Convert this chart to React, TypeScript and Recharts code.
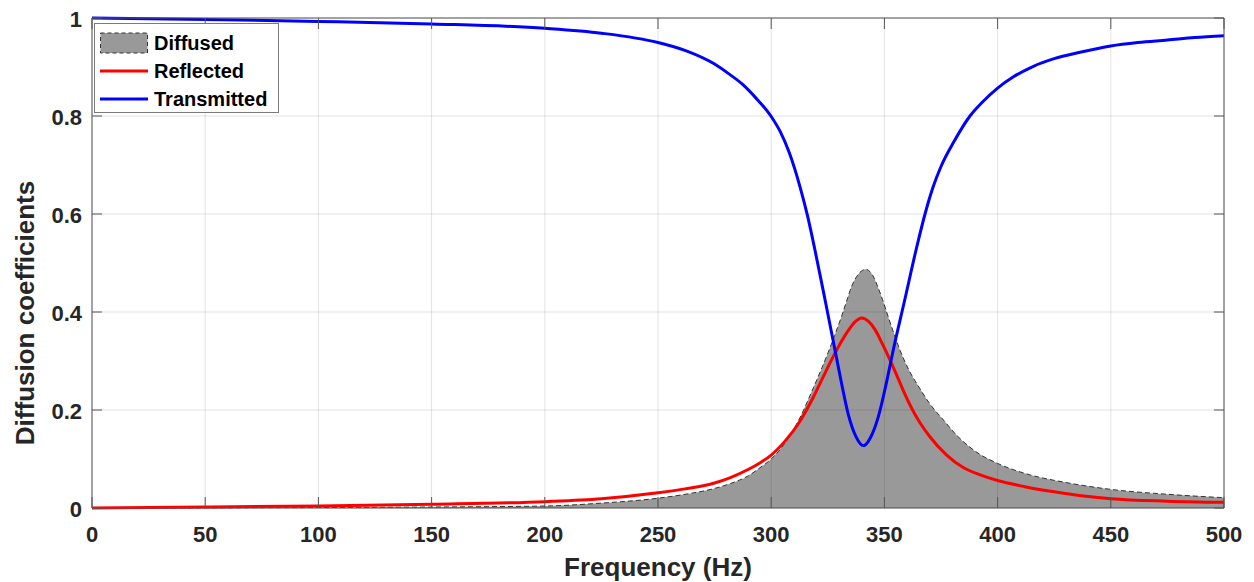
import React from "react";
import {
  ComposedChart, Area, Line, XAxis, YAxis, CartesianGrid, Legend, Label, ReferenceLine,
} from "recharts";

// values
const diffusedFreq = [0, 100, 150, 200, 225, 250, 262, 275, 282, 290, 295, 300, 306, 312, 318.6, 325.2, 328, 331, 333.3, 335.5, 337.7, 339.7, 341.7, 343.7, 345.5, 347.2, 349.2, 351.7, 354.3, 356.9, 361, 365.5, 370, 376, 382, 387, 392, 400, 414, 429, 450, 475, 500];
const diffusedVals = [0, 0.001, 0.002, 0.004, 0.01, 0.02, 0.028, 0.04, 0.05, 0.066, 0.082, 0.1, 0.132, 0.178, 0.245, 0.318, 0.352, 0.39, 0.422, 0.452, 0.472, 0.483, 0.487, 0.482, 0.469, 0.45, 0.425, 0.39, 0.355, 0.322, 0.28, 0.245, 0.213, 0.18, 0.148, 0.127, 0.11, 0.091, 0.068, 0.053, 0.038, 0.028, 0.021];

const reflectedFreq = [0, 50, 100, 150, 200, 225, 250, 262, 275, 282, 290, 295, 300, 306, 312, 318.6, 323, 327.5, 331, 334, 337, 340, 343, 346, 349, 352.5, 356, 359, 362.8, 366, 370, 377.5, 385, 392, 400, 412, 425, 437, 450, 475, 500];
const reflectedVals = [0, 0.002, 0.004, 0.0075, 0.013, 0.019, 0.031, 0.039, 0.051, 0.062, 0.079, 0.092, 0.108, 0.136, 0.172, 0.226, 0.268, 0.31, 0.34, 0.362, 0.38, 0.388, 0.381, 0.363, 0.336, 0.302, 0.265, 0.233, 0.197, 0.172, 0.146, 0.108, 0.082, 0.068, 0.056, 0.0435, 0.033, 0.025, 0.019, 0.014, 0.0116];

const transmittedFreq = [0, 50, 100, 150, 200, 225, 250, 262.5, 275, 281, 287.5, 293, 300, 304, 308, 312.7, 316, 319.3, 324, 328.2, 331, 334.1, 337.5, 340.7, 344, 347.3, 351, 353.9, 359, 364, 368, 371.5, 375, 381, 387.8, 393, 400, 407, 415.6, 425, 436.4, 450, 462, 475, 487, 500];
const transmittedVals = [1.0, 0.997, 0.993, 0.988, 0.979, 0.969, 0.95, 0.933, 0.906, 0.887, 0.864, 0.838, 0.799, 0.768, 0.725, 0.656, 0.597, 0.527, 0.42, 0.322, 0.256, 0.19, 0.145, 0.127, 0.145, 0.186, 0.258, 0.322, 0.425, 0.527, 0.601, 0.655, 0.697, 0.75, 0.8, 0.827, 0.857, 0.88, 0.901, 0.917, 0.93, 0.943, 0.95, 0.955, 0.96, 0.964];

const xTicks = [0, 50, 100, 150, 200, 250, 300, 350, 400, 450, 500];
const yTicks = [0, 0.2, 0.4, 0.6, 0.8, 1];

const toRows = (fs: number[], vs: number[]) => fs.map((f, i) => ({ f, v: vs[i] }));
const diffusedData = toRows(diffusedFreq, diffusedVals);
const reflectedData = toRows(reflectedFreq, reflectedVals);
const transmittedData = toRows(transmittedFreq, transmittedVals);

const FONT = "'Liberation Sans', Arial, Helvetica, sans-serif";
const TEXT = "#262626";
const AXIS = "#555555";
const PLOT = { left: 92, right: 1224, top: 18, bottom: 508 };

function XTick(props: any) {
  const { x, payload } = props;
  return (
    <g>
      <line x1={x} x2={x} y1={PLOT.bottom} y2={PLOT.bottom - 11} stroke={AXIS} />
      <line x1={x} x2={x} y1={PLOT.top} y2={PLOT.top + 11} stroke={AXIS} />
      <text x={x} y={PLOT.bottom + 34} textAnchor="middle" fontSize={22} fontWeight="bold" fill={TEXT} fontFamily={FONT}>
        {payload.value}
      </text>
    </g>
  );
}

function YTick(props: any) {
  const { y, payload } = props;
  return (
    <g>
      <line x1={PLOT.left} x2={PLOT.left + 10} y1={y} y2={y} stroke={AXIS} />
      <line x1={PLOT.right} x2={PLOT.right - 10} y1={y} y2={y} stroke={AXIS} />
      <text x={PLOT.left - 10} y={y + 9} textAnchor="end" fontSize={22} fontWeight="bold" fill={TEXT} fontFamily={FONT}>
        {payload.value}
      </text>
    </g>
  );
}

function LegendBox() {
  const rows = [
    { label: "Diffused", kind: "patch" },
    { label: "Reflected", kind: "line", color: "#ff0000" },
    { label: "Transmitted", kind: "line", color: "#0000ff" },
  ];
  return (
    <div style={{ width: 185, height: 90, boxSizing: "border-box", border: "1px solid #7a7a7a", background: "#fff", position: "relative" }}>
      {rows.map((r, i) => (
        <div key={r.label} style={{ position: "absolute", left: 4, top: 8 + i * 28, height: 22, display: "flex", alignItems: "center" }}>
          <svg width={50} height={22}>
            {r.kind === "patch" ? (
              <rect x={1.5} y={1} width={47} height={20} fill="#999999" stroke="#333" strokeDasharray="4 3" />
            ) : (
              <line x1={1} x2={49} y1={11} y2={11} stroke={r.color} strokeWidth={3} />
            )}
          </svg>
          <span style={{ marginLeft: 5, fontFamily: FONT, fontWeight: "bold", fontSize: 20, color: "#000" }}>{r.label}</span>
        </div>
      ))}
    </div>
  );
}

export default function App() {
  return (
    <div style={{ position: "absolute", left: 0, top: 0, width: 1254, height: 582, background: "#fff" }}>
      <ComposedChart width={1254} height={582} margin={{ top: 18, right: 30, bottom: 0, left: 0 }}>
        <Area
          data={diffusedData} dataKey="v" type="monotone" fill="#999999" fillOpacity={1}
          stroke="#333333" strokeWidth={1} strokeDasharray="5 3" isAnimationActive={false}
        />
        <CartesianGrid stroke="rgba(0,0,0,0.11)" zIndex={150} />
        <Line data={reflectedData} dataKey="v" type="monotone" stroke="#ff0000" strokeWidth={3} dot={false} isAnimationActive={false} />
        <Line data={transmittedData} dataKey="v" type="monotone" stroke="#0000ff" strokeWidth={3} dot={false} isAnimationActive={false} />
        <ReferenceLine y={1} stroke={AXIS} />
        <ReferenceLine x={500} stroke={AXIS} />
        <XAxis
          dataKey="f" type="number" domain={[0, 500]} ticks={xTicks} height={74}
          axisLine={{ stroke: AXIS }} tickLine={false} tick={(p: any) => <XTick {...p} />} interval={0}
        >
          <Label
            content={() => (
              <text x={(PLOT.left + PLOT.right) / 2} y={576} textAnchor="middle" fontSize={26} fontWeight="bold" fill={TEXT} fontFamily={FONT}>
                Frequency (Hz)
              </text>
            )}
          />
        </XAxis>
        <YAxis
          type="number" domain={[0, 1]} ticks={yTicks} width={92}
          axisLine={{ stroke: AXIS }} tickLine={false} tick={(p: any) => <YTick {...p} />} interval={0}
        >
          <Label
            content={() => (
              <text x={34} y={313} transform="rotate(-90 34 313)" textAnchor="middle" fontSize={26} fontWeight="bold" fill={TEXT} fontFamily={FONT}>
                Diffusion coefficients
              </text>
            )}
          />
        </YAxis>
        <Legend
          layout="vertical" align="center" verticalAlign="middle"
          wrapperStyle={{ left: 94, top: 23, width: 185, height: 90 }}
          content={() => <LegendBox />}
        />
      </ComposedChart>
    </div>
  );
}
